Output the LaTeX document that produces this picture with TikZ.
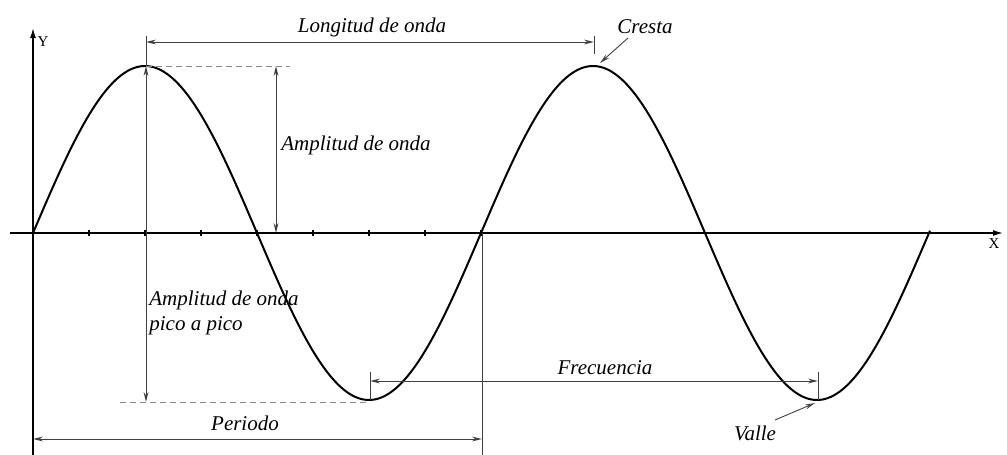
\documentclass[tikz,border=0pt]{standalone}
\usepackage{fontspec}
\setmainfont{Liberation Serif}
\usetikzlibrary{arrows.meta}
\begin{document}
\begin{tikzpicture}[x=0.5pt, y=-0.5pt, >={Stealth[open,length=5pt,width=2.4pt]},
	lbl/.style={font=\fontsize{10.5}{12.5}\selectfont\itshape, inner sep=0pt},
	dim/.style={draw=black!75, line width=0.45pt}]
	\useasboundingbox (0,0) rectangle (1007,455);
	\coordinate (O) at (33,233); % origen
	\coordinate (P1) at (146,66); % primera cresta
	\coordinate (V1) at (370,402); % primer valle
	\coordinate (P2) at (594,66); % segunda cresta
	\coordinate (V2) at (818,402); % segundo valle
	% Ejes
	\draw[line width=0.7pt, -{Latex[length=5pt,width=3pt]}] (10,233) -- (1003,233);
	\draw[line width=0.7pt, -{Latex[length=5pt,width=3pt]}] (33,455) -- (33,28);
	\node[font=\fontsize{7.5}{8}\selectfont] (ejex) at (994,244) {X};
	\node[font=\fontsize{7.5}{8}\selectfont] (ejey) at (43,42) {Y};
	\foreach \i in {1,...,8} \draw[line width=0.6pt] (33+56*\i,230) -- (33+56*\i,236);
	% Onda
	\draw[line width=1pt] plot[domain=33:930, samples=200, smooth] (\x, {233-167*sin((\x-33)/448*360)});
	% Longitud de onda
	\draw[dim] (146,36) -- (P1) (594,36) -- (594,54);
	\draw[dim,<->] (146,42) -- (594,42);
	\node[lbl] (lon) at (372,27) {Longitud de onda};
	% Cresta
	\node[lbl] (cre) at (645,27) {Cresta};
	\draw[dim,->] (628,38) -- (600,63);
	% Amplitud de onda
	\draw[dim, draw=black!45, densely dashed] (P1) -- (290,66);
	\draw[dim,<->] (276,66) -- (276,233);
	\node[lbl, anchor=west] (amp) at (281,145) {Amplitud de onda};
	% Amplitud pico a pico
	\draw[dim,<->] (P1) -- (146,402);
	\draw[dim, draw=black!45, densely dashed] (120,402) -- (V1);
	\node[lbl, anchor=west, align=left] (pap) at (149,313) {Amplitud de onda\\pico a pico};
	% Periodo
	\draw[dim] (482,233) -- (482,455);
	\draw[dim,<->] (33,439) -- (482,439);
	\node[lbl] (per) at (245,423) {Periodo};
	% Frecuencia
	\draw[dim] (370,372) -- (370,400) (818,372) -- (818,400);
	\draw[dim,<->] (370,381) -- (818,381);
	\node[lbl] (fre) at (605,368) {Frecuencia};
	% Valle
	\node[lbl] (val) at (755,433) {Valle};
	\draw[dim,->] (775,420) -- (815,403);
\end{tikzpicture}
\end{document}
